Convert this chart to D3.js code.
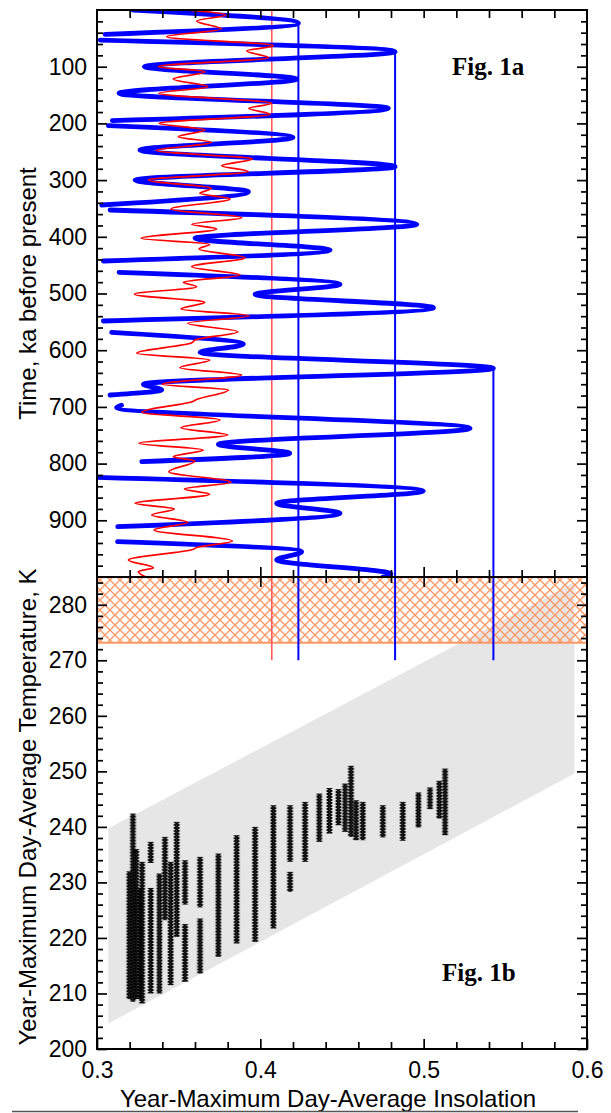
<!DOCTYPE html>
<html>
<head>
<meta charset="utf-8">
<script src="https://cdn.jsdelivr.net/npm/d3@7"></script>
<style>
  body { margin: 0; background: #fff; }
</style>
</head>
<body>
<div id="chart"></div>
<script>
// Fig 1a: year-maximum day-average insolation vs time (ka).
// null in the value list = gap in the curve
var blueKa  = [0, 23.5, 43, 48, 53, 73.5, 100, 121.7, 147, 173.4, 195.2, 200, 204, 225, 247, 276.3, 300, 320.4,
               343.9, 348, 352.7, 378, 402.7, 423.3, 442.7, 452, 462.6, 483.8, 501.5, 525, 548.5, 558, 568.5,
               589.7, 603.7, 632, 660, 670, 679, 688, 697, 701, 737.8, 766, 781.9, 796.6, 810, 824, 848.3, 870,
               887.7, 911.3, 924, 937.7, 955.4, 970, 994.6, 1000];
var blueIns = [0.322, 0.4233, 0.305, null, 0.302, 0.4825, 0.329, 0.4223, 0.3135, 0.4784, 0.3094, null, 0.307, 0.420,
               0.3263, 0.4825, 0.3233, 0.3927, 0.3029, null, 0.308, 0.4958, 0.360, 0.4427, 0.3039, null, 0.3135,
               0.4488, 0.3968, 0.506, 0.3039, null, 0.309, 0.3896, 0.3631, 0.5427, 0.3284, 0.3396, 0.308, null,
               0.315, 0.312, 0.5284, 0.3743, 0.418, 0.3274, null, 0.298, 0.4998, 0.410, 0.4488, 0.3127, null,
               0.3126, 0.4253, 0.410, 0.480, 0.475];

var redKa  = [0, 8.8, 19.4, 33.5, 47, 63, 72.3, 84, 100, 108.8, 121.7, 135.2, 147, 164.6, 173.4, 184, 199.8, 211.6,
              223.4, 233.4, 248, 262.8, 274.6, 285, 299.8, 314.5, 323.3, 333.3, 351, 366.3, 378, 386.2, 402.7,
              413.3, 421.5, 436.8, 452.7, 467.4, 480.3, 488, 501.5, 515.6, 527.3, 539.1, 552.6, 567.3, 582, 587,
              605.5, 617.3, 630.8, 643.7, 660, 670, 687, 690, 709.6, 723, 736.7, 749.6, 764.2, 776, 787.8, 795.4,
              814.3, 833, 844.8, 854.2, 870, 880, 890.7, 903.5, 917, 936.5, 948, 951, 970, 983.6, 990.6, 1000];
var redIns = [0.354, 0.3788, 0.361, 0.376, 0.3427, 0.408, 0.3917, 0.405, 0.3376, 0.366, 0.3467, 0.3678, 0.3379,
              0.407, 0.393, 0.406, 0.338, 0.366, 0.3498, 0.370, 0.3365, 0.395, 0.3764, 0.3927, 0.3314, 0.370, 0.363,
              0.3814, 0.3453, 0.3886, 0.358, 0.3733, 0.327, 0.369, 0.3625, 0.3906, 0.358, 0.3876, 0.3529, 0.361,
              0.3229, 0.366, 0.3514, 0.393, 0.3555, 0.3862, 0.360, 0.358, 0.3243, 0.369, 0.3508, 0.3886, 0.340,
              0.3804, 0.361, 0.359, 0.3274, 0.3753, 0.3514, 0.380, 0.3257, 0.365, 0.3467, 0.360, 0.344, 0.382,
              0.3535, 0.369, 0.3233, 0.3473, 0.3335, 0.3555, 0.335, 0.3829, 0.361, 0.359, 0.3192, 0.3345, 0.3253, 0.330];

// threshold lines: insolation, start time (ka), colour; they run down to 270 K
var threshIns   = [0.407, 0.4233, 0.4825, 0.5427];
var threshKa    = [0, 23.5, 73.5, 632];
var threshColor = ["#ff5a5a", "#0000ff", "#0000ff", "#0000ff"];
var threshEndK  = 270;

// Fig 1b: columns of simulated points (insolation, min T, max T)
var colIns  = [0.3198, 0.3220, 0.3240, 0.3262, 0.3276, 0.3329, 0.3329, 0.3382, 0.3416, 0.3451, 0.3488, 0.3539,
               0.3539, 0.3631, 0.3631, 0.3743, 0.3855, 0.3968, 0.408, 0.4182, 0.4182, 0.4274, 0.4361, 0.4423,
               0.4478, 0.4519, 0.4555, 0.4586, 0.4627, 0.475, 0.4872, 0.4968, 0.5039, 0.5096, 0.5131];
var colTmin = [209, 208.5, 209, 209, 208.2, 210, 233.5, 210, 223.2, 211.5, 220.2, 212.1, 226, 213.6, 225.5, 216.6,
               219.0, 219.3, 221.7, 228.3, 233.7, 233.7, 237.3, 238.8, 240.3, 239.1, 238.2, 237.6, 237.6, 238.1,
               237.5, 239.9, 243.2, 241.5, 238.5];
var colTmax = [232, 242.4, 236, 229, 233.7, 229, 237.3, 231.6, 238.2, 233.7, 240.9, 222.5, 234, 223.5, 234.6, 235.2,
               238.5, 240.0, 243.9, 231.9, 243.9, 244.5, 246.0, 247.0, 246.8, 247.8, 251.0, 244.8, 244.5, 243.9,
               244.5, 246.2, 247.1, 248.3, 250.5];

// grey envelope and the hatched 273.15 K+ band
var envIns  = [0.3069, 0.5923, 0.5923, 0.3069];
var envT    = [239.7, 284.0, 249.6, 204.6];
var meltT   = 273.15;

var timeLabels = [100, 200, 300, 400, 500, 600, 700, 800, 900];
var tempLabels = [200, 210, 220, 230, 240, 250, 260, 270, 280];
var insLabels  = [0.3, 0.4, 0.5, 0.6];

var W = 611, H = 1113,
    L = 97, R = 587, TOP = 10, MID = 577, BOT = 1049,
    FONT = "'Liberation Sans', Arial, Helvetica, sans-serif";

var x = d3.scaleLinear().domain([0.3, 0.6]).range([L, R]),
    yTime = d3.scaleLinear().domain([0, 1000]).range([TOP, MID]),
    yTemp = d3.scaleLinear().domain([200, 285]).range([BOT, MID]);

var svg = d3.select("#chart").append("svg")
    .attr("width", W)
    .attr("height", H)
    .style("display", "block");

var defs = svg.append("defs");

defs.append("clipPath").attr("id", "clipTop")
  .append("rect").attr("x", L).attr("y", TOP).attr("width", R - L).attr("height", MID - TOP);
defs.append("clipPath").attr("id", "clipBot")
  .append("rect").attr("x", L).attr("y", MID).attr("width", R - L).attr("height", BOT - MID);

var hatch = defs.append("pattern").attr("id", "hatch")
    .attr("patternUnits", "userSpaceOnUse").attr("width", 10).attr("height", 10);
hatch.append("path")
    .attr("d", "M-1,-1L11,11M11,-1L-1,11")
    .attr("stroke", "#ff9a66").attr("stroke-width", 1.4).attr("fill", "none");

var xmark = defs.append("pattern").attr("id", "xmark")
    .attr("patternUnits", "userSpaceOnUse").attr("width", 7).attr("height", 3);
xmark.append("path")
    .attr("d", "M0.8,-0.5L6.2,3.5M6.2,-0.5L0.8,3.5")
    .attr("stroke", "#000").attr("stroke-width", 1.8).attr("fill", "none");

// ---- bottom panel ----
var botG = svg.append("g").attr("clip-path", "url(#clipBot)");

botG.append("polygon")
    .attr("points", envIns.map(function(v, i) { return x(v) + "," + yTemp(envT[i]); }).join(" "))
    .attr("fill", "#e6e6e6");

botG.append("rect")
    .attr("x", L).attr("y", yTemp(285))
    .attr("width", R - L).attr("height", yTemp(meltT) - yTemp(285))
    .attr("fill", "url(#hatch)");
botG.append("line")
    .attr("x1", L).attr("x2", R)
    .attr("y1", yTemp(meltT)).attr("y2", yTemp(meltT))
    .attr("stroke", "#ff9a66").attr("stroke-width", 2);

var cols = colIns.map(function(v, i) { return { ins: v, lo: colTmin[i], hi: colTmax[i] }; });
botG.selectAll("g.col").data(cols).enter().append("g")
    .attr("class", "col")
    .attr("transform", function(d) { return "translate(" + (x(d.ins) - 3.5) + "," + yTemp(d.hi) + ")"; })
  .append("rect")
    .attr("width", 7)
    .attr("height", function(d) { return yTemp(d.lo) - yTemp(d.hi); })
    .attr("fill", "url(#xmark)");

// ---- threshold lines (span both panels) ----
svg.selectAll("line.thresh").data(threshIns).enter().append("line")
    .attr("class", "thresh")
    .attr("x1", function(d) { return x(d); })
    .attr("x2", function(d) { return x(d); })
    .attr("y1", function(d, i) { return yTime(threshKa[i]); })
    .attr("y2", yTemp(threshEndK))
    .attr("stroke", function(d, i) { return threshColor[i]; })
    .attr("stroke-width", function(d, i) { return i === 0 ? 1.6 : 2; });

// ---- top panel curves ----
var topG = svg.append("g").attr("clip-path", "url(#clipTop)");

var line = d3.line()
    .defined(function(d) { return d.v !== null; })
    .x(function(d) { return x(d.v); })
    .y(function(d) { return yTime(d.ka); })
    .curve(d3.curveMonotoneY);

var blue = blueKa.map(function(k, i) { return { ka: k, v: blueIns[i] }; });
var red = redKa.map(function(k, i) { return { ka: k, v: redIns[i] }; });

topG.append("path").datum(blue)
    .attr("d", line)
    .attr("fill", "none").attr("stroke", "#0000ff")
    .attr("stroke-width", 4.8).attr("stroke-linecap", "round").attr("stroke-linejoin", "round");

topG.append("path").datum(red)
    .attr("d", line)
    .attr("fill", "none").attr("stroke", "#ff0000")
    .attr("stroke-width", 1.7).attr("stroke-linejoin", "round");

// ---- axes ----
function ticks(y0, axisFn, scale, values, size, fmt, pad) {
    var g = svg.append("g").attr("transform", y0);
    g.call(axisFn(scale).tickValues(values).tickSize(size).tickPadding(pad || 0).tickFormat(fmt || ""));
    g.select(".domain").remove();
    g.selectAll(".tick line").attr("stroke", "#000").attr("stroke-width", 1.7);
    g.selectAll(".tick text").attr("fill", "#000").style("font-family", FONT).style("font-size", "23px");
    return g;
}

var insMinor = [0.32, 0.34, 0.36, 0.38, 0.42, 0.44, 0.46, 0.48, 0.52, 0.54, 0.56, 0.58],
    insMajor = [0.4, 0.5],
    insAll = insMinor.concat(insMajor),
    timeMinor = d3.range(20, 1000, 20).filter(function(v) { return v % 100; }),
    tempMinor = d3.range(202, 285, 2).filter(function(v) { return v % 10; });

// top panel
ticks("translate(0," + TOP + ")", d3.axisTop, x, insAll, -8);
ticks("translate(0," + MID + ")", d3.axisBottom, x, insMinor, -7);
ticks("translate(0," + MID + ")", d3.axisBottom, x, insMajor, -10);
ticks("translate(" + L + ",0)", d3.axisLeft, yTime, timeMinor, -6);
ticks("translate(" + L + ",0)", d3.axisLeft, yTime, timeLabels, -10, d3.format("d"), 10);
ticks("translate(" + R + ",0)", d3.axisRight, yTime, timeMinor, -6);
ticks("translate(" + R + ",0)", d3.axisRight, yTime, timeLabels, -10);

// bottom panel
ticks("translate(0," + MID + ")", d3.axisTop, x, insMinor, -6);
ticks("translate(0," + MID + ")", d3.axisTop, x, insMajor, -10);
ticks("translate(0," + BOT + ")", d3.axisBottom, x, insMinor, -7);
ticks("translate(0," + BOT + ")", d3.axisBottom, x, insLabels, -10, d3.format(".1f"), 13);
ticks("translate(" + L + ",0)", d3.axisLeft, yTemp, tempMinor, -6);
ticks("translate(" + L + ",0)", d3.axisLeft, yTemp, tempLabels, -10, d3.format("d"), 10);
ticks("translate(" + R + ",0)", d3.axisRight, yTemp, tempMinor, -6);
ticks("translate(" + R + ",0)", d3.axisRight, yTemp, tempLabels, -10);

// frames
svg.append("rect").attr("x", L).attr("y", TOP).attr("width", R - L).attr("height", MID - TOP)
    .attr("fill", "none").attr("stroke", "#000").attr("stroke-width", 2);
svg.append("rect").attr("x", L).attr("y", MID).attr("width", R - L).attr("height", BOT - MID)
    .attr("fill", "none").attr("stroke", "#000").attr("stroke-width", 2);

// titles
svg.append("text")
    .attr("transform", "translate(36," + ((TOP + MID) / 2) + ") rotate(-90)")
    .attr("text-anchor", "middle")
    .style("font-family", FONT).style("font-size", "24px")
    .text("Time, ka before present");

svg.append("text")
    .attr("transform", "translate(36,807) rotate(-90)")
    .attr("text-anchor", "middle")
    .style("font-family", FONT).style("font-size", "24px")
    .text("Year-Maximum Day-Average Temperature, K");

svg.append("text")
    .attr("x", 328).attr("y", 1107)
    .attr("text-anchor", "middle")
    .style("font-family", FONT).style("font-size", "24px")
    .text("Year-Maximum Day-Average Insolation");

svg.append("text")
    .attr("x", 452).attr("y", 75)
    .style("font-family", "'Liberation Serif', 'Times New Roman', serif")
    .style("font-weight", "bold").style("font-size", "25px")
    .text("Fig. 1a");

svg.append("text")
    .attr("x", 442).attr("y", 981)
    .style("font-family", "'Liberation Serif', 'Times New Roman', serif")
    .style("font-weight", "bold").style("font-size", "25px")
    .text("Fig. 1b");

// scan edge line at the very bottom
svg.append("line")
    .attr("x1", 12).attr("x2", 578).attr("y1", 1111.5).attr("y2", 1111.5)
    .attr("stroke", "#555").attr("stroke-width", 1.5);
</script>
</body>
</html>
